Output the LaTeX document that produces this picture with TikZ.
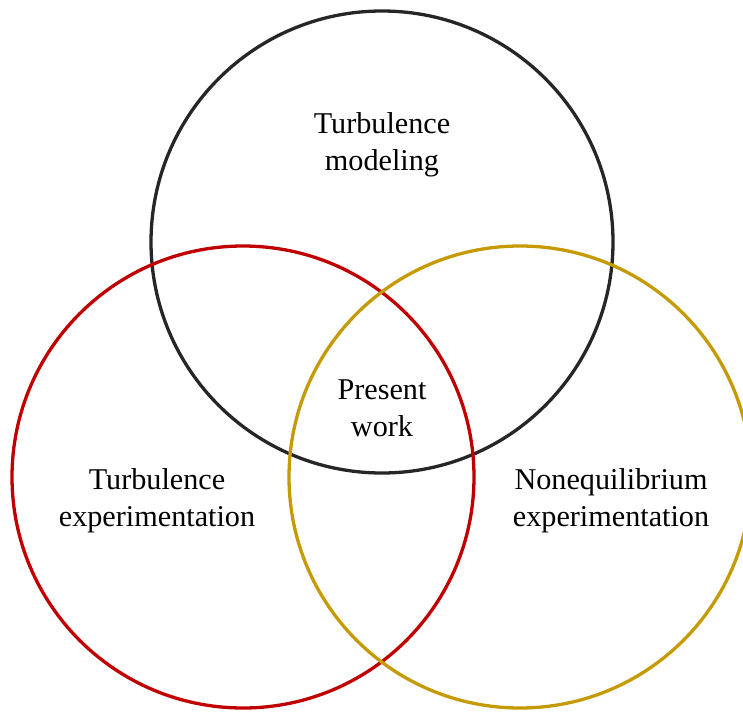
\documentclass[tikz,border=0pt]{standalone}
\usepackage{fontspec}
\setmainfont{Liberation Serif}
\usepackage{xcolor}
\usepackage{tikz}
\definecolor{ink}{HTML}{262626}
\definecolor{crimson}{HTML}{C00000}
\definecolor{gold}{HTML}{C59A05}
\tikzset{
  every node/.style={font=\fontsize{15.1}{18.5}\selectfont},
  venn/.style={circle,line width=1.65pt,minimum size=231pt,inner sep=0pt},
  lab/.style={align=center,inner sep=0pt},
}
\begin{document}
\begin{tikzpicture}[x=0.5pt,y=-0.5pt]
\useasboundingbox (0,0) rectangle (743,712);
\node[venn,draw=ink]     (model) at (382,242) {};
\node[venn,draw=crimson] (turbx) at (243,477) {};
\node[venn,draw=gold]    (noneq) at (520,477) {};
\node[lab] (modeltxt) at (382,145) {Turbulence\\modeling};
\node[lab] (present)  at (382,408) {Present\\work};
\node[lab] (turbtxt)  at (157,501) {Turbulence\\experimentation};
\node[lab] (noneqtxt) at (611,501) {Nonequilibrium\\experimentation};
\end{tikzpicture}
\end{document}
